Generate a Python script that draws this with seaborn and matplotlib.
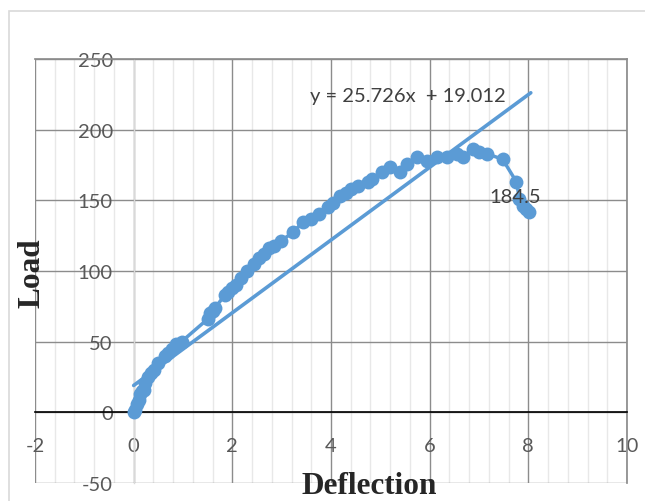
import numpy as np
import pandas as pd
import matplotlib
matplotlib.use("Agg")
import matplotlib.pyplot as plt
from matplotlib.patches import Rectangle
from matplotlib.ticker import MultipleLocator
import seaborn as sns

sns.set_theme(style="white")
plt.rcParams["font.family"] = ["Lato", "DejaVu Sans"]
plt.rcParams["axes.unicode_minus"] = False

BLUE = "#5B9BD5"
MAJOR = "#8C8C8C"
MINOR = "#E8E8E8"
TXT = "#595959"

# Load-deflection readings
deflection = [0, 0.02, 0.06, 0.1, 0.12, 0.16, 0.2, 0.22, 0.3, 0.36, 0.42, 0.5,
              0.63, 0.7, 0.77, 0.85, 0.97, 1.5, 1.55, 1.6, 1.65, 1.85, 1.92,
              2.0, 2.08, 2.18, 2.3, 2.44, 2.55, 2.64, 2.75, 2.84, 2.98, 3.23,
              3.43, 3.59, 3.75, 3.93, 4.05, 4.19, 4.3, 4.4, 4.54, 4.74, 4.84,
              5.04, 5.2, 5.4, 5.54, 5.75, 5.95, 6.15, 6.35, 6.55, 6.67, 6.88,
              7.0, 7.16, 7.48, 7.76, 7.82, 7.9, 7.96, 8.02]
load = [0, 2, 5.7, 9, 12.7, 15, 16, 21, 25, 28, 30, 35,
        40, 42, 45, 48, 50, 66, 70, 72, 74, 83, 85,
        88, 90, 95, 100, 105, 109, 112, 116, 118, 121, 127.5,
        134.5, 137, 140, 145, 148, 153, 155, 158, 160, 163, 165,
        170, 173.5, 170, 175.6, 180.6, 178, 180.6, 180.6, 183, 181, 186,
        184, 183, 179, 163, 151, 146, 144, 142]

# linear trendline as reported on the chart
slope, intercept = 25.726, 19.012
trend_x = [0, 8.05]

xticks = [-2, 0, 2, 4, 6, 8, 10]
yticks = [-50, 0, 50, 100, 150, 200, 250]

df = pd.DataFrame({"Deflection": deflection, "Load": load})
trend = pd.DataFrame({"x": trend_x, "y": [slope * v + intercept for v in trend_x]})

fig = plt.figure(figsize=(6.45, 5.02), dpi=100)
ax = fig.add_axes([35 / 645, 18 / 502, 592 / 645, 424 / 502])

sns.lineplot(data=trend, x="x", y="y", ax=ax, color=BLUE, lw=2.6, zorder=3)
sns.lineplot(data=df, x="Deflection", y="Load", ax=ax, sort=False, estimator=None,
             color=BLUE, lw=2.5, marker="o", markersize=10, markeredgewidth=0,
             zorder=4)

ax.set_xlim(xticks[0], xticks[-1])
ax.set_ylim(yticks[0], yticks[-1])
ax.set_xticks(xticks)
ax.set_yticks(yticks)
ax.xaxis.set_minor_locator(MultipleLocator(0.4))
ax.grid(which="major", color=MAJOR, lw=1.0)
ax.grid(which="minor", axis="x", color=MINOR, lw=1.0)
ax.grid(which="minor", axis="y", visible=False)
ax.set_axisbelow(True)

# axes cross at the origin, as in the spreadsheet chart
ax.spines["bottom"].set_position(("data", 0))
ax.spines["bottom"].set_color("black")
ax.spines["bottom"].set_linewidth(1.2)
ax.spines["left"].set_position(("data", 0))
ax.spines["left"].set_color("#D9D9D9")
ax.spines["left"].set_linewidth(1.0)
ax.spines["top"].set_color(MAJOR)
ax.spines["right"].set_color(MAJOR)
ax.tick_params(axis="both", which="both", length=0, labelsize=14.5, labelcolor=TXT)
ax.tick_params(axis="x", pad=18)
ax.tick_params(axis="y", pad=15)
ax.set_xlabel("")
ax.set_ylabel("")

ax.text(5.55, 224, "y = 25.726x  + 19.012", ha="center", va="center",
        fontsize=14.5, color="#404040", zorder=6)
ax.text(7.74, 153, "184.5", ha="center", va="center", fontsize=14.5,
        color="#404040", zorder=6)

fig.text(32 / 645, 1 - 273 / 502, "Load", rotation=90, ha="center", va="center",
         fontsize=22.5, fontweight="bold", family=["Liberation Serif"], color="#262626")
fig.text(369 / 645, 1 - 487 / 502, "Deflection", ha="center", va="center",
         fontsize=22.5, fontweight="bold", family=["Liberation Serif"], color="#262626")

fig.patches.append(Rectangle((9 / 645, -0.05), 1.1, 1.05 - 12 / 502,
                             transform=fig.transFigure, fill=False,
                             edgecolor="#D9D9D9", lw=1.2))

fig.savefig("out.png", dpi=100)
